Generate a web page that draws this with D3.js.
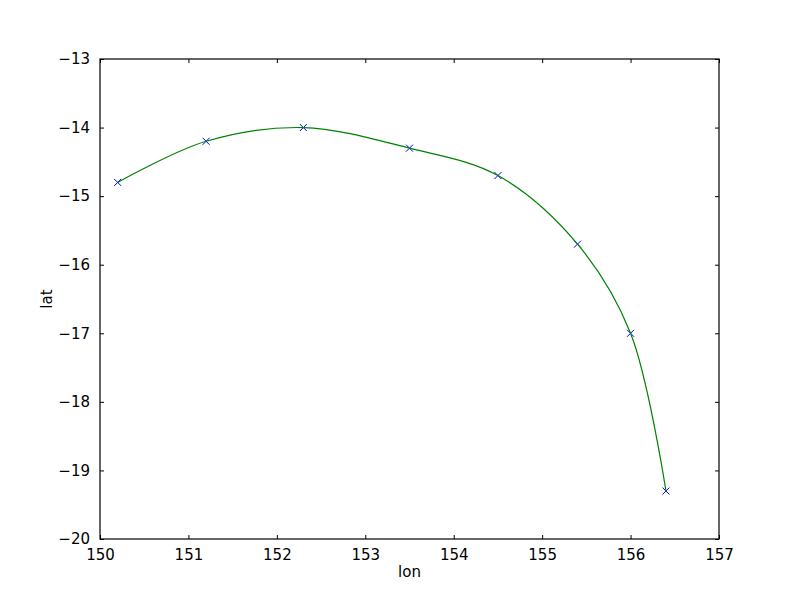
<!DOCTYPE html>
<html>
<head>
<meta charset="utf-8">
<script src="https://cdn.jsdelivr.net/npm/d3@7"></script>
<style>
  body { margin: 0; background: #fff; }
  text { font-family: "DejaVu Sans", sans-serif; }
</style>
</head>
<body>
<div id="chart"></div>
<script>
// track points
let lon = [150.2, 151.2, 152.3, 153.5, 154.5, 155.4, 156.0, 156.4]
let lat = [-14.8, -14.2, -14.0, -14.3, -14.7, -15.7, -17.0, -19.3]
let xTicks = [150, 151, 152, 153, 154, 155, 156, 157]
let yTicks = [-20, -19, -18, -17, -16, -15, -14, -13]

let W = 800, H = 600
let mLeft = 100, mRight = 719, mTop = 59, mBottom = 539

let svg = d3.select("#chart").append("svg")
  .attr("width", W).attr("height", H)

let x = d3.scaleLinear().domain([150, 157]).range([mLeft, mRight])
let y = d3.scaleLinear().domain([-20, -13]).range([mBottom, mTop])

let pts = lon.map((d, i) => [d, lat[i]])

let fmt = d => d < 0 ? "\u2212" + Math.abs(d) : "" + d

// axes with inward ticks on all four sides
let axes = [
  {ax: d3.axisBottom(x).tickValues(xTicks).tickFormat(fmt), t: `translate(0,${mBottom})`},
  {ax: d3.axisTop(x).tickValues(xTicks).tickFormat(""), t: `translate(0,${mTop})`},
  {ax: d3.axisLeft(y).tickValues(yTicks).tickFormat(fmt), t: `translate(${mLeft},0)`},
  {ax: d3.axisRight(y).tickValues(yTicks).tickFormat(""), t: `translate(${mRight},0)`}
]
axes.forEach(a => {
  let g = svg.append("g").attr("transform", a.t)
    .call(a.ax.tickSizeInner(-4).tickSizeOuter(0).tickPadding(10))
  g.select(".domain").remove()
  g.selectAll("line").attr("stroke", "#000")
  g.selectAll("text").attr("font-size", 15).attr("fill", "#000")
    .attr("font-family", "DejaVu Sans, sans-serif")
})

// markers
svg.append("g").selectAll("path")
  .data(pts)
  .enter()
  .append("path")
  .attr("transform", d => `translate(${x(d[0])},${y(d[1])})`)
  .attr("d", "M-3.5,-3.5L3.5,3.5M-3.5,3.5L3.5,-3.5")
  .attr("stroke", "#0000ff")
  .attr("stroke-width", 1)
  .attr("fill", "none")

// spline through the points
let line = d3.line()
  .x(d => x(d[0]))
  .y(d => y(d[1]))
  .curve(d3.curveCatmullRom.alpha(0.5))

svg.append("path")
  .datum(pts)
  .attr("d", line)
  .attr("fill", "none")
  .attr("stroke", "#008000")
  .attr("stroke-width", 1.2)

// frame
svg.append("rect")
  .attr("x", mLeft).attr("y", mTop)
  .attr("width", mRight - mLeft).attr("height", mBottom - mTop)
  .attr("fill", "none").attr("stroke", "#000").attr("stroke-width", 1.2)

svg.append("text")
  .attr("x", (mLeft + mRight) / 2).attr("y", 577)
  .attr("text-anchor", "middle").attr("font-size", 15)
  .text("lon")

svg.append("text")
  .attr("transform", `translate(52,${(mTop + mBottom) / 2}) rotate(-90)`)
  .attr("text-anchor", "middle").attr("font-size", 15)
  .text("lat")
</script>
</body>
</html>
